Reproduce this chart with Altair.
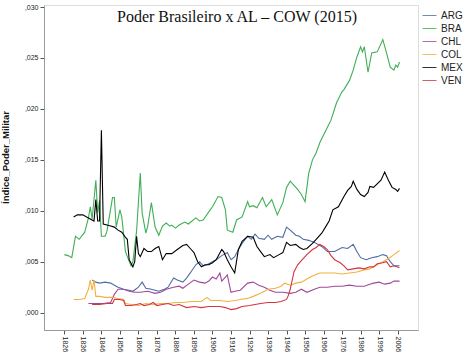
import altair as alt
import pandas as pd

title_text = "Poder Brasileiro x AL – COW (2015)"
countries = ["ARG", "BRA", "CHL", "COL", "MEX", "VEN"]
colors = ["#4e6da3", "#3fae55", "#a0489a", "#f2b040", "#000000", "#d23440"]

arg_years = [1841, 1843, 1845, 1848, 1851, 1853, 1855, 1858, 1861, 1863, 1866, 1868, 1870, 1873, 1877, 1880, 1882, 1885, 1887, 1890, 1892, 1894, 1897, 1899, 1901, 1903, 1906, 1908, 1911, 1914, 1916, 1918, 1920, 1922, 1925, 1927, 1929, 1931, 1934, 1936, 1938, 1941, 1944, 1946, 1948, 1951, 1953, 1955, 1958, 1961, 1965, 1968, 1972, 1976, 1979, 1982, 1984, 1986, 1989, 1992, 1995, 1998, 2000, 2002, 2004, 2007]
arg_vals = [0.0032, 0.0030, 0.0029, 0.0030, 0.0029, 0.0027, 0.0025, 0.0023, 0.0022, 0.0021, 0.0025, 0.0030, 0.0024, 0.0023, 0.0021, 0.0023, 0.0025, 0.0034, 0.0032, 0.0030, 0.0034, 0.0039, 0.0047, 0.0050, 0.0046, 0.0047, 0.0050, 0.0052, 0.0056, 0.0059, 0.0052, 0.0055, 0.0062, 0.0068, 0.0075, 0.0072, 0.0077, 0.0073, 0.0072, 0.0076, 0.0072, 0.0075, 0.0074, 0.0084, 0.0081, 0.0076, 0.0075, 0.0072, 0.0071, 0.0069, 0.0065, 0.0060, 0.0060, 0.0064, 0.0063, 0.0067, 0.0060, 0.0054, 0.0052, 0.0054, 0.0055, 0.0057, 0.0056, 0.0050, 0.0046, 0.0046]

bra_years = [1826, 1828, 1830, 1832, 1834, 1837, 1839, 1840, 1841, 1843, 1844, 1845, 1846, 1848, 1849, 1852, 1853, 1854, 1856, 1857, 1859, 1860, 1862, 1863, 1865, 1867, 1868, 1870, 1871, 1873, 1875, 1877, 1879, 1881, 1883, 1884, 1886, 1888, 1891, 1893, 1897, 1899, 1901, 1904, 1906, 1909, 1911, 1913, 1914, 1917, 1919, 1922, 1925, 1926, 1928, 1930, 1933, 1935, 1938, 1941, 1944, 1946, 1948, 1950, 1952, 1954, 1956, 1958, 1960, 1962, 1964, 1967, 1970, 1973, 1976, 1977, 1980, 1982, 1984, 1986, 1987, 1988, 1990, 1992, 1995, 1998, 2000, 2002, 2004, 2005, 2006, 2007]
bra_vals = [0.0057, 0.0056, 0.0054, 0.0075, 0.0072, 0.0079, 0.0093, 0.0104, 0.0092, 0.0130, 0.0098, 0.0110, 0.0075, 0.0075, 0.0080, 0.0113, 0.0113, 0.0084, 0.0101, 0.0094, 0.0060, 0.0055, 0.0046, 0.0050, 0.0080, 0.0137, 0.0098, 0.0078, 0.0085, 0.0108, 0.0084, 0.0076, 0.0085, 0.0088, 0.0085, 0.0086, 0.0083, 0.0086, 0.0089, 0.0087, 0.0093, 0.0090, 0.0091, 0.0099, 0.0104, 0.0114, 0.0113, 0.0101, 0.0081, 0.0079, 0.0091, 0.0094, 0.0109, 0.0104, 0.0105, 0.0103, 0.0113, 0.0104, 0.0111, 0.0096, 0.0108, 0.0123, 0.0129, 0.0125, 0.0121, 0.0116, 0.0109, 0.0137, 0.0150, 0.0157, 0.0167, 0.0178, 0.0189, 0.0206, 0.0217, 0.0219, 0.0228, 0.0238, 0.0251, 0.0261, 0.0256, 0.0261, 0.0236, 0.0255, 0.0256, 0.0268, 0.0255, 0.0241, 0.0238, 0.0243, 0.0241, 0.0246]

chl_years = [1839, 1843, 1847, 1851, 1853, 1855, 1858, 1861, 1864, 1867, 1871, 1875, 1878, 1881, 1885, 1888, 1890, 1893, 1896, 1899, 1902, 1904, 1906, 1908, 1910, 1911, 1913, 1914, 1916, 1918, 1921, 1925, 1928, 1931, 1934, 1937, 1940, 1944, 1948, 1951, 1954, 1957, 1961, 1964, 1968, 1972, 1976, 1980, 1984, 1988, 1991, 1993, 1996, 1999, 2002, 2004, 2007]
chl_vals = [0.0009, 0.0009, 0.0009, 0.0010, 0.0018, 0.0023, 0.0023, 0.0021, 0.0020, 0.0020, 0.0021, 0.0019, 0.0020, 0.0023, 0.0025, 0.0026, 0.0024, 0.0028, 0.0032, 0.0030, 0.0029, 0.0031, 0.0035, 0.0033, 0.0039, 0.0031, 0.0035, 0.0037, 0.0020, 0.0021, 0.0022, 0.0029, 0.0030, 0.0027, 0.0025, 0.0022, 0.0020, 0.0020, 0.0019, 0.0020, 0.0023, 0.0020, 0.0023, 0.0025, 0.0025, 0.0026, 0.0026, 0.0027, 0.0026, 0.0026, 0.0028, 0.0029, 0.0030, 0.0028, 0.0029, 0.0031, 0.0031]

col_years = [1831, 1834, 1837, 1839, 1840, 1841, 1842, 1843, 1845, 1848, 1852, 1855, 1858, 1859, 1862, 1866, 1870, 1874, 1878, 1882, 1886, 1890, 1895, 1900, 1903, 1905, 1910, 1914, 1918, 1921, 1925, 1928, 1932, 1936, 1940, 1943, 1945, 1948, 1951, 1954, 1957, 1960, 1964, 1968, 1972, 1976, 1980, 1984, 1988, 1991, 1995, 1998, 2001, 2004, 2007]
col_vals = [0.0013, 0.0013, 0.0014, 0.0023, 0.0032, 0.0022, 0.0032, 0.0016, 0.0016, 0.0015, 0.0015, 0.0014, 0.0013, 0.0009, 0.0008, 0.0007, 0.0009, 0.0008, 0.0009, 0.0009, 0.0010, 0.0010, 0.0011, 0.0011, 0.0015, 0.0012, 0.0012, 0.0011, 0.0012, 0.0013, 0.0014, 0.0016, 0.0019, 0.0023, 0.0024, 0.0026, 0.0029, 0.0027, 0.0029, 0.0030, 0.0033, 0.0036, 0.0039, 0.0039, 0.0039, 0.0038, 0.0039, 0.0040, 0.0042, 0.0043, 0.0047, 0.0050, 0.0053, 0.0057, 0.0061]

mex_years = [1831, 1833, 1836, 1838, 1840, 1842, 1843, 1844, 1845, 1846, 1847, 1849, 1851, 1853, 1855, 1857, 1859, 1860, 1861, 1863, 1864, 1865, 1866, 1867, 1869, 1871, 1873, 1875, 1877, 1879, 1881, 1884, 1887, 1890, 1892, 1894, 1896, 1898, 1900, 1902, 1904, 1906, 1908, 1911, 1912, 1914, 1916, 1918, 1920, 1922, 1925, 1928, 1930, 1932, 1934, 1937, 1939, 1942, 1944, 1946, 1948, 1951, 1953, 1955, 1957, 1960, 1962, 1965, 1967, 1969, 1971, 1974, 1977, 1979, 1981, 1982, 1984, 1986, 1988, 1990, 1991, 1993, 1997, 1999, 2001, 2003, 2005, 2006, 2007]
mex_vals = [0.0094, 0.0096, 0.0096, 0.0094, 0.0092, 0.0090, 0.0111, 0.0090, 0.0090, 0.0179, 0.0087, 0.0086, 0.0085, 0.0084, 0.0081, 0.0079, 0.0074, 0.0072, 0.0052, 0.0045, 0.0050, 0.0075, 0.0058, 0.0055, 0.0063, 0.0060, 0.0060, 0.0063, 0.0065, 0.0052, 0.0058, 0.0058, 0.0062, 0.0066, 0.0067, 0.0063, 0.0059, 0.0050, 0.0045, 0.0047, 0.0047, 0.0049, 0.0052, 0.0062, 0.0060, 0.0052, 0.0045, 0.0039, 0.0062, 0.0070, 0.0075, 0.0074, 0.0065, 0.0060, 0.0055, 0.0057, 0.0054, 0.0057, 0.0059, 0.0069, 0.0066, 0.0067, 0.0064, 0.0062, 0.0063, 0.0068, 0.0072, 0.0078, 0.0084, 0.0090, 0.0101, 0.0104, 0.0114, 0.0120, 0.0124, 0.0129, 0.0121, 0.0116, 0.0114, 0.0118, 0.0124, 0.0123, 0.0130, 0.0138, 0.0130, 0.0123, 0.0121, 0.0119, 0.0122]

ven_years = [1841, 1845, 1849, 1852, 1853, 1856, 1858, 1859, 1862, 1865, 1867, 1869, 1872, 1874, 1876, 1879, 1882, 1885, 1888, 1892, 1896, 1900, 1904, 1907, 1910, 1913, 1916, 1919, 1922, 1926, 1929, 1932, 1936, 1940, 1943, 1946, 1947, 1948, 1950, 1952, 1955, 1957, 1960, 1962, 1964, 1966, 1968, 1970, 1972, 1975, 1977, 1979, 1982, 1985, 1988, 1991, 1993, 1995, 1998, 2000, 2002, 2004, 2007]
ven_vals = [0.0008, 0.0008, 0.0009, 0.0009, 0.0013, 0.0013, 0.0012, 0.0007, 0.0007, 0.0008, 0.0009, 0.0007, 0.0008, 0.0010, 0.0007, 0.0008, 0.0009, 0.0007, 0.0008, 0.0005, 0.0006, 0.0005, 0.0006, 0.0006, 0.0006, 0.0005, 0.0003, 0.0004, 0.0006, 0.0007, 0.0008, 0.0009, 0.0010, 0.0010, 0.0011, 0.0013, 0.0017, 0.0023, 0.0040, 0.0047, 0.0053, 0.0057, 0.0062, 0.0064, 0.0067, 0.0065, 0.0062, 0.0056, 0.0052, 0.0049, 0.0046, 0.0042, 0.0043, 0.0044, 0.0043, 0.0045, 0.0045, 0.0048, 0.0049, 0.0050, 0.0045, 0.0046, 0.0044]

x_ticks = [1826, 1836, 1846, 1856, 1866, 1876, 1886, 1896, 1906, 1916, 1926, 1936, 1946, 1956, 1966, 1976, 1986, 1996, 2006]
y_ticks = [0.0, 0.005, 0.010, 0.015, 0.020, 0.025, 0.030]

series = {
    "ARG": (arg_years, arg_vals),
    "BRA": (bra_years, bra_vals),
    "CHL": (chl_years, chl_vals),
    "COL": (col_years, col_vals),
    "MEX": (mex_years, mex_vals),
    "VEN": (ven_years, ven_vals),
}
rows = []
for c, (ys, vs) in series.items():
    for y, v in zip(ys, vs):
        rows.append({"country": c, "year": y, "value": v})
df = pd.DataFrame(rows)

FONT = "Liberation Sans"

lines = alt.Chart(df).mark_line(strokeWidth=1.1, interpolate="linear").encode(
    x=alt.X("year:Q", scale=alt.Scale(domain=[1815, 2017], nice=False, zero=False),
            axis=alt.Axis(values=x_ticks, format="d", labelAngle=90, labelFontSize=7,
                          labelFont=FONT, labelColor="#222", tickSize=4, tickColor="#555",
                          domainColor="#999", grid=False, title=None, labelPadding=2)),
    y=alt.Y("value:Q", scale=alt.Scale(domain=[-0.0017, 0.0302], nice=False, zero=False),
            axis=alt.Axis(values=y_ticks, labelExpr="',' + substring(format(datum.value, '.3f'), 2)",
                          labelFontSize=7, labelFont=FONT, labelColor="#222", tickSize=4,
                          tickColor="#555", domainColor="#999", grid=False,
                          title="Índice_Poder_Militar", titleFont=FONT, titleFontSize=9.5,
                          titleFontWeight="bold", titleColor="#111", titleX=-34, titleY=152)),
    color=alt.Color("country:N", scale=alt.Scale(domain=countries, range=colors), title=None,
                    legend=alt.Legend(orient="none", legendX=378, legendY=3, symbolType="stroke",
                                      symbolSize=196, symbolStrokeWidth=1, labelFont=FONT,
                                      labelFontSize=10, labelColor="#222", rowPadding=0,
                                      symbolOpacity=0.8)),
    order=alt.Order("year:Q"),
)

title = alt.Chart(pd.DataFrame({"t": [title_text]})).mark_text(
    font="Liberation Serif", fontSize=16, align="center", baseline="alphabetic", color="#111"
).encode(text="t:N", x=alt.value(193), y=alt.value(17))

chart = alt.layer(lines, title).properties(
    width=374, height=325,
    padding={"left": 44, "top": 5, "right": 56, "bottom": 25},
    autosize=alt.AutoSizeParams(type="none"),
).configure_view(stroke=None).configure(background="white")

chart.save("out.html", embed_options={"renderer": "svg", "actions": False})
